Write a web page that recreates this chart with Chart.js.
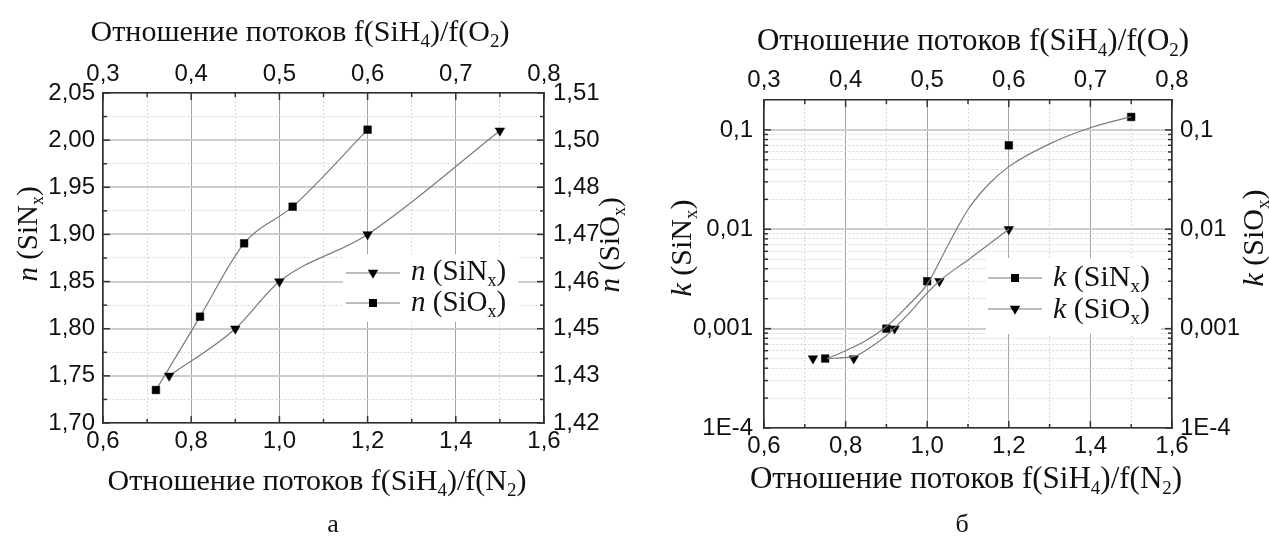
<!DOCTYPE html>
<html>
<head>
<meta charset="utf-8">
<script src="https://cdn.jsdelivr.net/npm/chart.js@4.4.0/dist/chart.umd.min.js"></script>
<style>
  html, body { margin: 0; padding: 0; background: #fff; }
  .panel { position: absolute; top: 0; height: 539px; }
  #panelA { left: 0; width: 634px; }
  #panelB { left: 634px; width: 635px; }
</style>
</head>
<body>
<div class="panel" id="panelA"><canvas id="chartA"></canvas></div>
<div class="panel" id="panelB"><canvas id="chartB"></canvas></div>
<script>
// ---- data (a): refractive index ----
const nSiNxFlow = [0.75, 0.9, 1.0, 1.2, 1.5];        // f(SiH4)/f(N2)
const nSiNx = [1.75, 1.80, 1.85, 1.90, 2.01];
const nSiOxFlow = [0.36, 0.41, 0.46, 0.515, 0.6];    // f(SiH4)/f(O2)
const nSiOx = [1.429, 1.449, 1.469, 1.479, 1.50];

// ---- data (б): extinction coefficient ----
const kSiNxFlow = [0.75, 0.9, 1.0, 1.2, 1.5];
const kSiNx = [0.0005, 0.001, 0.003, 0.07, 0.135];
const kSiOxFlow = [0.36, 0.41, 0.46, 0.515, 0.6];
const kSiOx = [0.0005, 0.0005, 0.001, 0.003, 0.01];

// fitted curves
const kSiNxFitFlow = [0.755, 0.8, 0.85, 0.9, 0.95, 1.0, 1.05, 1.1, 1.15, 1.2, 1.3, 1.4, 1.5];
const kSiNxFit = [0.0005, 0.0006, 0.00076, 0.00105, 0.00166, 0.0028, 0.0068, 0.0158, 0.0282, 0.0427, 0.0724, 0.105, 0.136];
const kSiOxFitFlow = [0.3775, 0.41, 0.43, 0.45, 0.475, 0.5, 0.515, 0.55, 0.6];
const kSiOxFit = [0.0005, 0.000525, 0.000646, 0.000851, 0.00135, 0.00229, 0.00302, 0.0049, 0.01];

// ---- tick labels ----
const flowN2Ticks = [0.6, 0.8, 1.0, 1.2, 1.4, 1.6];
const flowO2Ticks = [0.3, 0.4, 0.5, 0.6, 0.7, 0.8];
const nSiNxTicks = [1.70, 1.75, 1.80, 1.85, 1.90, 1.95, 2.00, 2.05];
const nSiOxTickLabels = ['1,42', '1,43', '1,45', '1,46', '1,47', '1,48', '1,50', '1,51'];
const kTicks = [1e-4, 1e-3, 1e-2, 1e-1];
const kTickLabels = ['1E-4', '0,001', '0,01', '0,1'];

const SANS = '"Liberation Sans", Arial, sans-serif';
const SERIF = '"Liberation Serif", "Times New Roman", serif';
const comma = (v, d) => v.toFixed(d).replace('.', ',');

function pts(xs, ys) { return xs.map((x, i) => ({ x: x, y: ys[i] })); }

// major ticks with a minor tick half way between
function linTicks(major, labels) {
  const out = [];
  major.forEach((v, i) => {
    out.push({ value: v, major: true, lab: labels[i] });
    if (i < major.length - 1) out.push({ value: (v + major[i + 1]) / 2, major: false, lab: '' });
  });
  return out;
}
function logTicks(max) {
  const out = [];
  kTicks.forEach((d, i) => {
    out.push({ value: d, major: true, lab: kTickLabels[i] });
    for (let m = 2; m <= 9; m++) if (m * d < max) out.push({ value: m * d, major: false, lab: '' });
  });
  return out;
}

function drawRich(ctx, parts, x, y, size, align) {
  const fontFor = k => (k === 'i' ? 'italic ' : '') + (k === 's' ? Math.round(size * 0.62) : size) + 'px ' + SERIF;
  let total = 0;
  parts.forEach(([t, k]) => { ctx.font = fontFor(k); total += ctx.measureText(t).width; });
  let cx = align === 'center' ? x - total / 2 : x;
  ctx.textAlign = 'left';
  ctx.textBaseline = 'alphabetic';
  parts.forEach(([t, k]) => {
    ctx.font = fontFor(k);
    ctx.fillText(t, cx, k === 's' ? y + size * 0.2 : y);
    cx += ctx.measureText(t).width;
  });
}

function drawMarker(ctx, shape, x, y) {
  ctx.beginPath();
  if (shape === 'rect') {
    ctx.rect(x - 4, y - 4, 8, 8);
  } else {
    ctx.moveTo(x - 5.2, y - 3.2);
    ctx.lineTo(x + 5.2, y - 3.2);
    ctx.lineTo(x, y + 5.8);
    ctx.closePath();
  }
  ctx.fill();
}

// inward tick marks on all four sides
const inwardTicks = {
  id: 'inwardTicks',
  afterDraw(chart) {
    const { ctx, chartArea: a } = chart;
    ctx.save();
    ctx.strokeStyle = '#333';
    ctx.lineWidth = 1.5;
    Object.values(chart.scales).forEach(s => {
      s.ticks.forEach(t => {
        const len = t.major ? 7 : 4;
        const p = s.getPixelForValue(t.value);
        ctx.beginPath();
        if (s.position === 'bottom') { ctx.moveTo(p, a.bottom); ctx.lineTo(p, a.bottom - len); }
        else if (s.position === 'top') { ctx.moveTo(p, a.top); ctx.lineTo(p, a.top + len); }
        else if (s.position === 'left') { ctx.moveTo(a.left, p); ctx.lineTo(a.left + len, p); }
        else { ctx.moveTo(a.right, p); ctx.lineTo(a.right - len, p); }
        ctx.stroke();
      });
    });
    ctx.restore();
  }
};

// titles and legend drawn as rich text (italics, subscripts)
function textPlugin(cfg) {
  return {
    id: 'texts',
    beforeDatasetsDraw(chart) {
      const ctx = chart.ctx;
      const L = cfg.legend;
      ctx.save();
      ctx.fillStyle = '#fff';
      ctx.fillRect(L.box[0], L.box[1], L.box[2], L.box[3]);
      L.rows.forEach(r => {
        ctx.strokeStyle = '#7a7a7a';
        ctx.lineWidth = 1.2;
        ctx.beginPath();
        ctx.moveTo(L.x0, r.y);
        ctx.lineTo(L.x1, r.y);
        ctx.stroke();
        ctx.fillStyle = '#000';
        drawMarker(ctx, r.shape, (L.x0 + L.x1) / 2, r.y);
        ctx.fillStyle = '#111';
        drawRich(ctx, r.parts, L.tx, r.base, L.size, 'left');
      });
      ctx.restore();
    },
    afterDraw(chart) {
      const ctx = chart.ctx;
      ctx.save();
      ctx.fillStyle = '#111';
      cfg.titles.forEach(t => {
        if (t.rot) {
          ctx.save();
          ctx.translate(t.x, t.y);
          ctx.rotate(-Math.PI / 2);
          drawRich(ctx, t.parts, 0, t.size * 0.3, t.size, 'center');
          ctx.restore();
        } else {
          drawRich(ctx, t.parts, t.x, t.y, t.size, 'center');
        }
      });
      ctx.restore();
    }
  };
}

const titleN2 = [['Отношение потоков f(SiH', ''], ['4', 's'], [')/f(N', ''], ['2', 's'], [')', '']];
const titleO2 = [['Отношение потоков f(SiH', ''], ['4', 's'], [')/f(O', ''], ['2', 's'], [')', '']];
const sym = (v, m) => [[v, 'i'], [' (Si' + m, ''], ['x', 's'], [')', '']];

function gridOpts(isX) {
  return {
    drawTicks: false,
    color: c => (c.tick && c.tick.major) ? (isX ? '#a3a3a3' : '#cdcdcd') : '#d6d6d6',
    lineWidth: c => (c.tick && c.tick.major && !isX) ? 2 : 1
  };
}
const borderOpts = { color: '#2e2e2e', width: 1.5, dash: c => (c.tick && !c.tick.major) ? [2, 2] : [] };
const tickFont = { family: SANS, size: 24 };

function axis(type, position, min, max, ticks, size, pad, onArea) {
  const horiz = position === 'top' || position === 'bottom';
  return {
    type: type, position: position, min: min, max: max,
    afterBuildTicks: s => { s.ticks = ticks; },
    afterFit: s => { if (horiz) s.height = size; else s.width = size; },
    ticks: {
      autoSkip: false, maxRotation: 0, minRotation: 0, padding: pad,
      color: '#111', font: tickFont,
      callback: (v, i, arr) => arr[i].lab
    },
    grid: onArea ? gridOpts(horiz) : { drawTicks: false, drawOnChartArea: false },
    border: borderOpts
  };
}

const common = {
  responsive: true,
  maintainAspectRatio: false,
  animation: false,
  layout: { padding: 0 },
  plugins: { legend: { display: false }, tooltip: { enabled: false } }
};

// ---- chart (a) ----
new Chart(document.getElementById('chartA').getContext('2d'), {
  type: 'scatter',
  data: {
    datasets: [
      {
        label: 'n (SiNx)', data: pts(nSiNxFlow, nSiNx), xAxisID: 'x', yAxisID: 'y',
        showLine: true, cubicInterpolationMode: 'monotone', borderColor: '#7a7a7a', borderWidth: 1.2,
        pointStyle: 'triangle', rotation: 180, pointRadius: 5.5,
        pointBackgroundColor: '#000', pointBorderColor: '#000', pointBorderWidth: 0.5
      },
      {
        label: 'n (SiOx)', data: pts(nSiOxFlow, nSiOx), xAxisID: 'x2', yAxisID: 'y2',
        showLine: true, cubicInterpolationMode: 'monotone', borderColor: '#7a7a7a', borderWidth: 1.2,
        pointStyle: 'rect', pointRadius: 5.4,
        pointBackgroundColor: '#000', pointBorderColor: '#000', pointBorderWidth: 0.5
      }
    ]
  },
  options: Object.assign({}, common, {
    scales: {
      x: axis('linear', 'bottom', 0.6, 1.6, linTicks(flowN2Ticks, flowN2Ticks.map(v => comma(v, 1))), 116, 4.3, true),
      x2: axis('linear', 'top', 0.3, 0.8, linTicks(flowO2Ticks, flowO2Ticks.map(v => comma(v, 1))), 93, 4.6, false),
      y: axis('linear', 'left', 1.70, 2.05, linTicks(nSiNxTicks, nSiNxTicks.map(v => comma(v, 2))), 103, 8, true),
      y2: axis('linear', 'right', 1.42, 1.51,
        linTicks(nSiOxTickLabels.map((s, i) => 1.42 + i * 0.09 / 7), nSiOxTickLabels), 90, 9, false)
    }
  }),
  plugins: [inwardTicks, textPlugin({
    legend: {
      box: [343, 254, 175, 68], x0: 346, x1: 400, tx: 411, size: 29,
      rows: [
        { y: 273, base: 280, shape: 'tri', parts: sym('n', 'N') },
        { y: 303, base: 311, shape: 'rect', parts: sym('n', 'O') }
      ]
    },
    titles: [
      { parts: titleO2, x: 300, y: 41, size: 30 },
      { parts: titleN2, x: 317, y: 490, size: 30 },
      { parts: sym('n', 'N'), x: 28, y: 234, size: 29, rot: true },
      { parts: sym('n', 'O'), x: 610, y: 245, size: 29, rot: true },
      { parts: [['а', '']], x: 333, y: 532, size: 26 }
    ]
  })]
});

// ---- chart (б) ----
new Chart(document.getElementById('chartB').getContext('2d'), {
  type: 'scatter',
  data: {
    datasets: [
      {
        label: 'k (SiNx) fit', data: pts(kSiNxFitFlow, kSiNxFit), xAxisID: 'x', yAxisID: 'y',
        showLine: true, cubicInterpolationMode: 'monotone', borderColor: '#7a7a7a', borderWidth: 1.2,
        pointRadius: 0
      },
      {
        label: 'k (SiOx) fit', data: pts(kSiOxFitFlow, kSiOxFit), xAxisID: 'x2', yAxisID: 'y2',
        showLine: true, cubicInterpolationMode: 'monotone', borderColor: '#7a7a7a', borderWidth: 1.2,
        pointRadius: 0
      },
      {
        label: 'k (SiNx)', data: pts(kSiNxFlow, kSiNx), xAxisID: 'x', yAxisID: 'y',
        pointStyle: 'rect', pointRadius: 5.4,
        pointBackgroundColor: '#000', pointBorderColor: '#000', pointBorderWidth: 0.5
      },
      {
        label: 'k (SiOx)', data: pts(kSiOxFlow, kSiOx), xAxisID: 'x2', yAxisID: 'y2',
        pointStyle: 'triangle', rotation: 180, pointRadius: 5.5,
        pointBackgroundColor: '#000', pointBorderColor: '#000', pointBorderWidth: 0.5
      }
    ]
  },
  options: Object.assign({}, common, {
    scales: {
      x: axis('linear', 'bottom', 0.6, 1.6, linTicks(flowN2Ticks, flowN2Ticks.map(v => comma(v, 1))), 111, 4.3, true),
      x2: axis('linear', 'top', 0.3, 0.8, linTicks(flowO2Ticks, flowO2Ticks.map(v => comma(v, 1))), 100, 5.6, false),
      y: axis('logarithmic', 'left', 1e-4, 0.2, logTicks(0.2), 130, 11, true),
      y2: axis('logarithmic', 'right', 1e-4, 0.2, logTicks(0.2), 97, 8, false)
    }
  }),
  plugins: [inwardTicks, textPlugin({
    legend: {
      box: [352, 258, 175, 76], x0: 354, x1: 408, tx: 419, size: 30,
      rows: [
        { y: 278, base: 286, shape: 'rect', parts: sym('k', 'N') },
        { y: 309, base: 318, shape: 'tri', parts: sym('k', 'O') }
      ]
    },
    titles: [
      { parts: titleO2, x: 339, y: 50, size: 31 },
      { parts: titleN2, x: 332, y: 488, size: 31 },
      { parts: sym('k', 'N'), x: 48, y: 248, size: 30, rot: true },
      { parts: sym('k', 'O'), x: 620, y: 238, size: 30, rot: true },
      { parts: [['б', '']], x: 328, y: 532, size: 26 }
    ]
  })]
});
</script>
</body>
</html>
